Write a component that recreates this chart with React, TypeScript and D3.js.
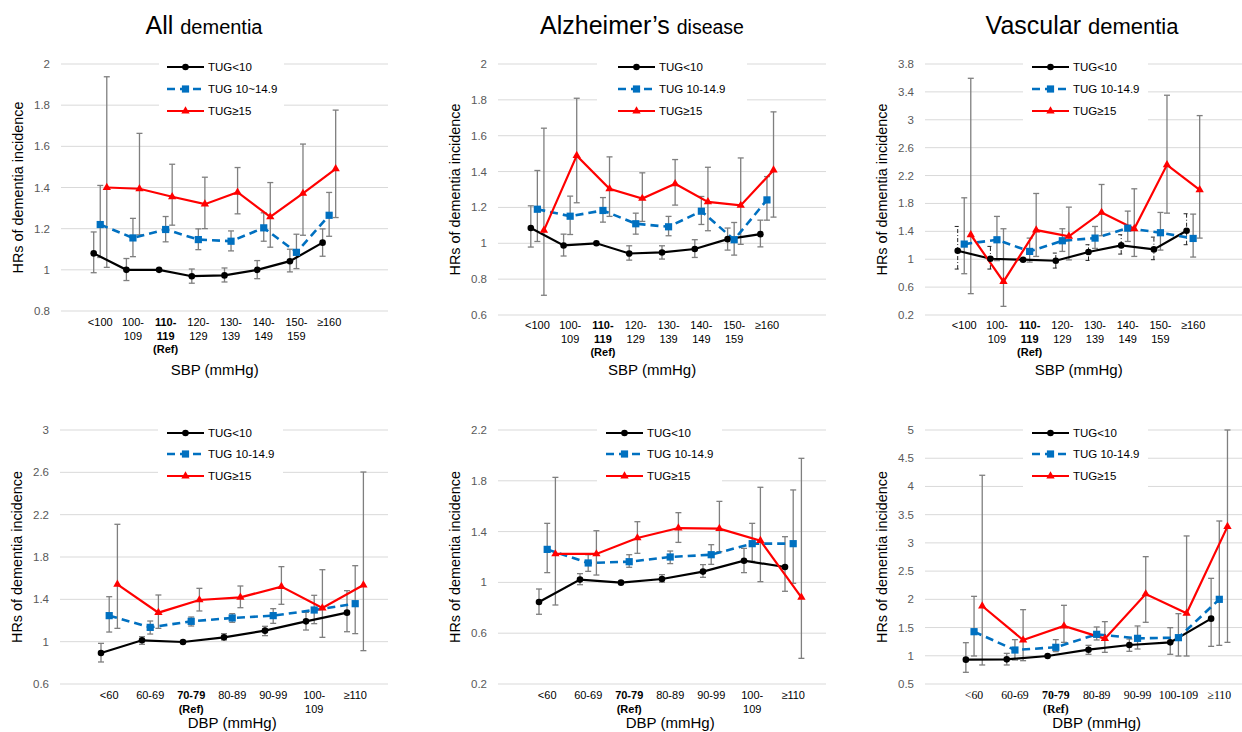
import { useEffect, useRef } from "react";
import * as d3 from "d3";

// [HR, lower CI, upper CI]; reference group has no CI
type Pt = [number, number | null, number | null];

const sbpCats = [["<100"], ["100-", "109"], ["110-", "119", "(Ref)"], ["120-", "129"], ["130-", "139"], ["140-", "149"], ["150-", "159"], ["≥160"]];
const dbpCats = [["<60"], ["60-69"], ["70-79", "(Ref)"], ["80-89"], ["90-99"], ["100-", "109"], ["≥110"]];
const dbpCatsVd = [["<60"], ["60-69"], ["70-79", "(Ref)"], ["80-89"], ["90-99"], ["100-109"], ["≥110"]];
const refIndex = 2;

const legendAll = ["TUG<10", "TUG 10~14.9", "TUG≥15"];
const legendStd = ["TUG<10", "TUG 10-14.9", "TUG≥15"];

const allSbpTicks = [0.8, 1, 1.2, 1.4, 1.6, 1.8, 2];
const adSbpTicks = [0.6, 0.8, 1, 1.2, 1.4, 1.6, 1.8, 2];
const vdSbpTicks = [0.2, 0.6, 1, 1.4, 1.8, 2.2, 2.6, 3, 3.4, 3.8];
const allDbpTicks = [0.6, 1, 1.4, 1.8, 2.2, 2.6, 3];
const adDbpTicks = [0.2, 0.6, 1, 1.4, 1.8, 2.2];
const vdDbpTicks = [0.5, 1, 1.5, 2, 2.5, 3, 3.5, 4, 4.5, 5];

// All dementia, SBP
const allSbpT1: Pt[] = [[1.08, 0.986, 1.184], [1.0, 0.948, 1.055], [1.0, null, null], [0.969, 0.935, 1.004], [0.973, 0.941, 1.009], [1.0, 0.957, 1.045], [1.042, 0.99, 1.1], [1.132, 1.066, 1.199]];
const allSbpT2: Pt[] = [[1.22, 1.06, 1.41], [1.155, 1.064, 1.25], [1.196, 1.136, 1.259], [1.147, 1.098, 1.199], [1.139, 1.092, 1.189], [1.204, 1.139, 1.277], [1.085, 1.006, 1.173], [1.265, 1.163, 1.376]];
const allSbpT3: Pt[] = [[1.4, 1.012, 1.938], [1.394, 1.17, 1.663], [1.355, 1.217, 1.513], [1.319, 1.2, 1.45], [1.377, 1.272, 1.497], [1.257, 1.11, 1.424], [1.371, 1.168, 1.611], [1.491, 1.254, 1.776]];

// Alzheimer's disease, SBP
const adSbpT1: Pt[] = [[1.085, 0.979, 1.209], [0.988, 0.929, 1.051], [1.0, null, null], [0.943, 0.906, 0.986], [0.949, 0.912, 0.986], [0.968, 0.921, 1.02], [1.023, 0.962, 1.085], [1.051, 0.98, 1.129]];
const adSbpT2: Pt[] = [[1.19, 1.01, 1.406], [1.151, 1.049, 1.263], [1.183, 1.118, 1.255], [1.109, 1.051, 1.168], [1.092, 1.042, 1.15], [1.179, 1.105, 1.261], [1.02, 0.934, 1.116], [1.242, 1.129, 1.372]];
const adSbpT3: Pt[] = [[1.072, 0.71, 1.642], [1.489, 1.226, 1.809], [1.304, 1.15, 1.482], [1.25, 1.122, 1.393], [1.332, 1.213, 1.467], [1.231, 1.07, 1.424], [1.211, 0.994, 1.476], [1.408, 1.146, 1.733]];

// Vascular dementia, SBP
const vdSbpT1: Pt[] = [[1.122, 0.859, 1.47], [1.007, 0.859, 1.184], [0.993, null, null], [0.978, 0.873, 1.088], [1.103, 0.983, 1.208], [1.198, 1.074, 1.351], [1.141, 0.993, 1.317], [1.408, 1.208, 1.652]];
const vdSbpT2: Pt[] = [[1.217, 0.792, 1.881], [1.279, 0.98, 1.614], [1.112, 0.959, 1.303], [1.265, 1.112, 1.437], [1.303, 1.155, 1.47], [1.446, 1.255, 1.69], [1.38, 1.131, 1.671], [1.298, 1.031, 1.647]];
const vdSbpT3: Pt[] = [[1.351, 0.506, 3.595], [0.678, 0.324, 1.437], [1.418, 1.04, 1.943], [1.327, 0.99, 1.747], [1.671, 1.337, 2.072], [1.437, 1.04, 2.01], [2.354, 1.661, 3.352], [1.996, 1.303, 3.06]];

// All dementia, DBP
const allDbpT1: Pt[] = [[0.893, 0.808, 0.984], [1.013, 0.975, 1.047], [0.997, null, null], [1.041, 1.016, 1.076], [1.104, 1.057, 1.145], [1.192, 1.11, 1.277], [1.274, 1.094, 1.482]];
const allDbpT2: Pt[] = [[1.246, 1.091, 1.425], [1.135, 1.072, 1.195], [1.192, 1.148, 1.233], [1.224, 1.183, 1.265], [1.246, 1.173, 1.312], [1.299, 1.17, 1.438], [1.359, 1.076, 1.718]];
const allDbpT3: Pt[] = [[1.542, 1.126, 2.109], [1.274, 1.126, 1.441], [1.394, 1.29, 1.504], [1.419, 1.321, 1.526], [1.52, 1.353, 1.709], [1.318, 1.041, 1.68], [1.535, 0.915, 2.603]];

// Alzheimer's disease, DBP
const adDbpT1: Pt[] = [[0.846, 0.749, 0.948], [1.022, 0.982, 1.069], [0.998, null, null], [1.027, 1.001, 1.061], [1.085, 1.04, 1.14], [1.171, 1.077, 1.268], [1.121, 0.93, 1.36]];
const adDbpT2: Pt[] = [[1.26, 1.077, 1.465], [1.153, 1.087, 1.218], [1.163, 1.119, 1.218], [1.2, 1.148, 1.247], [1.218, 1.142, 1.297], [1.305, 1.166, 1.465], [1.305, 0.993, 1.728]];
const adDbpT3: Pt[] = [[1.224, 0.822, 1.827], [1.224, 1.058, 1.407], [1.35, 1.229, 1.478], [1.428, 1.315, 1.549], [1.423, 1.242, 1.638], [1.329, 1.006, 1.749], [0.882, 0.402, 1.977]];

// Vascular dementia, DBP
const vdDbpT1: Pt[] = [[0.931, 0.707, 1.232], [0.937, 0.837, 1.043], [0.996, null, null], [1.108, 1.026, 1.185], [1.191, 1.079, 1.297], [1.238, 1.026, 1.498], [1.658, 1.167, 2.372]];
const vdDbpT2: Pt[] = [[1.427, 0.996, 2.053], [1.102, 0.925, 1.286], [1.15, 1.073, 1.286], [1.38, 1.28, 1.51], [1.309, 1.12, 1.528], [1.321, 0.996, 1.746], [2.0, 1.185, 3.388]];
const vdDbpT3: Pt[] = [[1.882, 0.837, 4.198], [1.28, 0.913, 1.817], [1.528, 1.238, 1.894], [1.303, 1.061, 1.605], [2.095, 1.593, 2.756], [1.752, 0.996, 3.123], [3.288, 1.238, 5.0]];

const FONT = "Liberation Sans, Arial, sans-serif";
const SERIF = "Liberation Serif, Times New Roman, serif";

const seriesStyle = [
  { color: "#000000", dash: null as string | null, width: 2.2, marker: "circle", off: -0.2 },
  { color: "#0070C0", dash: "8,5", width: 2.6, marker: "square", off: 0 },
  { color: "#FF0000", dash: null as string | null, width: 2.2, marker: "triangle", off: 0.2 },
];

const panels = [
  { title: ["All", "dementia"], titleX: 204, sub: 20, cats: sbpCats, ticks: allSbpTicks, series: [allSbpT1, allSbpT2, allSbpT3], legend: legendAll,
    left: 61, right: 388, top: 64, bottom: 311, xMax: 8.8, box: [159, 284], lx: 167, rows: [67, 89, 111], catY: 326, xTitle: "SBP (mmHg)", xTitleY: 375 },
  { title: ["Alzheimer’s", "disease"], titleX: 642, sub: 19.5, cats: sbpCats, ticks: adSbpTicks, series: [adSbpT1, adSbpT2, adSbpT3], legend: legendStd,
    left: 498, right: 826, top: 64, bottom: 315, xMax: 8.8, box: [597, 747], lx: 618, rows: [67, 89, 111], catY: 329, xTitle: "SBP (mmHg)", xTitleY: 375 },
  { title: ["Vascular", "dementia"], titleX: 1082, sub: 22, cats: sbpCats, ticks: vdSbpTicks, series: [vdSbpT1, vdSbpT2, vdSbpT3], legend: legendStd,
    left: 925, right: 1252, top: 64, bottom: 315, xMax: 8.8, box: [1023, 1148], lx: 1032, rows: [67, 89, 111], catY: 329, xTitle: "SBP (mmHg)", xTitleY: 375, dashBlackCI: true },
  { title: null, cats: dbpCats, ticks: allDbpTicks, series: [allDbpT1, allDbpT2, allDbpT3], legend: legendStd,
    left: 60, right: 388, top: 430, bottom: 684, xMax: 6.8, box: [158, 283], lx: 167, rows: [433, 454, 476], catY: 699, xTitle: "DBP (mmHg)", xTitleY: 728 },
  { title: null, cats: dbpCats, ticks: adDbpTicks, series: [adDbpT1, adDbpT2, adDbpT3], legend: legendStd,
    left: 498, right: 826, top: 430, bottom: 684, xMax: 6.8, box: [597, 722], lx: 606, rows: [433, 454, 476], catY: 699, xTitle: "DBP (mmHg)", xTitleY: 728 },
  { title: null, cats: dbpCatsVd, ticks: vdDbpTicks, series: [vdDbpT1, vdDbpT2, vdDbpT3], legend: legendStd,
    left: 925, right: 1252, top: 430, bottom: 684, xMax: 6.8, box: [1023, 1148], lx: 1032, rows: [433, 454, 476], catY: 699, xTitle: "DBP (mmHg)", xTitleY: 728, serifCats: true },
];

function drawMarker(g: any, kind: string, cx: number, cy: number, color: string) {
  if (kind === "circle") {
    g.append("circle").attr("cx", cx).attr("cy", cy).attr("r", 3.3).attr("fill", color);
  } else if (kind === "square") {
    g.append("rect").attr("x", cx - 3.6).attr("y", cy - 3.6).attr("width", 7.2).attr("height", 7.2).attr("fill", color);
  } else {
    g.append("path")
      .attr("d", d3.symbol().type(d3.symbolTriangle).size(30)())
      .attr("transform", "translate(" + cx + "," + cy + ")")
      .attr("fill", color);
  }
}

function drawPanel(svg: any, p: any) {
  const g = svg.append("g");
  const tMin = p.ticks[0];
  const tMax = p.ticks[p.ticks.length - 1];
  const x = d3.scaleLinear().domain([-1.2, p.xMax]).range([p.left, p.right]);
  const y = d3.scaleLinear().domain([tMin, tMax]).range([p.bottom, p.top]);

  // gridlines
  g.selectAll(".grid")
    .data(p.ticks)
    .join("line")
    .attr("x1", p.left)
    .attr("x2", p.right)
    .attr("y1", (d: number) => y(d))
    .attr("y2", (d: number) => y(d))
    .attr("stroke", "#d9d9d9")
    .attr("stroke-width", 1);

  // tick labels
  g.selectAll(".tick")
    .data(p.ticks)
    .join("text")
    .attr("x", p.left - 11)
    .attr("y", (d: number) => y(d) + 4)
    .attr("text-anchor", "end")
    .attr("fill", "#595959")
    .style("font-family", FONT)
    .style("font-size", "11.5px")
    .text((d: number) => String(+d.toFixed(1)));

  // y title
  g.append("text")
    .attr("transform", "translate(" + (p.left - 43.5) + "," + (p.top + p.bottom) / 2 + ")rotate(-90)")
    .attr("text-anchor", "middle")
    .attr("dy", "0.35em")
    .attr("fill", "#000")
    .style("font-family", FONT)
    .style("font-size", "14.4px")
    .text("HRs of dementia incidence");

  // error bars
  p.series.forEach((data: Pt[], si: number) => {
    const st = seriesStyle[si];
    const dashed = si === 0 && p.dashBlackCI;
    data.forEach((d, i) => {
      if (d[1] == null || d[2] == null) return;
      const cx = x(i + st.off);
      const y1 = y(Math.max(d[1], tMin));
      const y2 = y(Math.min(d[2], tMax));
      const col = dashed ? "#222" : "#7f7f7f";
      const add = (xa: number, ya: number, xb: number, yb: number) =>
        g.append("line").attr("x1", xa).attr("y1", ya).attr("x2", xb).attr("y2", yb)
          .attr("stroke", col).attr("stroke-width", dashed ? 1 : 1.3)
          .attr("stroke-dasharray", dashed ? "4,2,1,2" : null);
      add(cx, y1, cx, y2);
      add(cx - 3, y1, cx + 3, y1);
      if (d[2] <= tMax) add(cx - 3, y2, cx + 3, y2);
    });
  });

  // lines
  p.series.forEach((data: Pt[], si: number) => {
    const st = seriesStyle[si];
    const line = d3.line<Pt>().x((d, i) => x(i + st.off)).y((d) => y(d[0]));
    g.append("path")
      .attr("d", line(data))
      .attr("fill", "none")
      .attr("stroke", st.color)
      .attr("stroke-width", st.width)
      .attr("stroke-dasharray", st.dash);
  });

  // markers
  p.series.forEach((data: Pt[], si: number) => {
    const st = seriesStyle[si];
    data.forEach((d, i) => drawMarker(g, st.marker, x(i + st.off), y(d[0]), st.color));
  });

  // legend
  g.append("rect")
    .attr("x", p.box[0])
    .attr("y", p.rows[0] - 11)
    .attr("width", p.box[1] - p.box[0])
    .attr("height", p.rows[2] - p.rows[0] + 22)
    .attr("fill", "#fff");
  p.legend.forEach((label: string, li: number) => {
    const st = seriesStyle[li];
    const ry = p.rows[li];
    g.append("line")
      .attr("x1", p.lx).attr("x2", p.lx + 37).attr("y1", ry).attr("y2", ry)
      .attr("stroke", st.color).attr("stroke-width", st.width)
      .attr("stroke-dasharray", st.dash);
    drawMarker(g, st.marker, p.lx + 18.5, ry, st.color);
    g.append("text")
      .attr("x", p.lx + 41)
      .attr("y", ry + 4)
      .attr("fill", "#000")
      .style("font-family", FONT)
      .style("font-size", "11.5px")
      .text(label);
  });

  // category labels
  p.cats.forEach((lines: string[], i: number) => {
    const t = g.append("text")
      .attr("x", x(i))
      .attr("y", p.catY)
      .attr("text-anchor", "middle")
      .attr("fill", "#000")
      .style("font-family", p.serifCats ? SERIF : FONT)
      .style("font-size", p.serifCats ? "11.8px" : "11px")
      .style("font-weight", i === refIndex ? "bold" : "normal");
    lines.forEach((s, li) => {
      t.append("tspan").attr("x", x(i)).attr("dy", li === 0 ? 0 : 13.7).text(s);
    });
  });

  // x title
  g.append("text")
    .attr("x", x((p.cats.length - 1) / 2))
    .attr("y", p.xTitleY)
    .attr("text-anchor", "middle")
    .attr("fill", "#000")
    .style("font-family", FONT)
    .style("font-size", "15px")
    .text(p.xTitle);

  // panel title
  if (p.title) {
    const t = g.append("text")
      .attr("x", p.titleX)
      .attr("y", 34)
      .attr("text-anchor", "middle")
      .attr("fill", "#000")
      .style("font-family", FONT);
    t.append("tspan").style("font-size", "25px").text(p.title[0] + " ");
    t.append("tspan").style("font-size", p.sub + "px").text(p.title[1]);
  }
}

export default function App() {
  const ref = useRef<SVGSVGElement>(null);
  useEffect(() => {
    const svg = d3.select(ref.current);
    svg.selectAll("*").remove();
    panels.forEach((p) => drawPanel(svg, p));
  }, []);
  return (
    <svg
      ref={ref}
      width={1242}
      height={732}
      style={{ position: "absolute", left: 0, top: 0, background: "#fff" }}
    />
  );
}
